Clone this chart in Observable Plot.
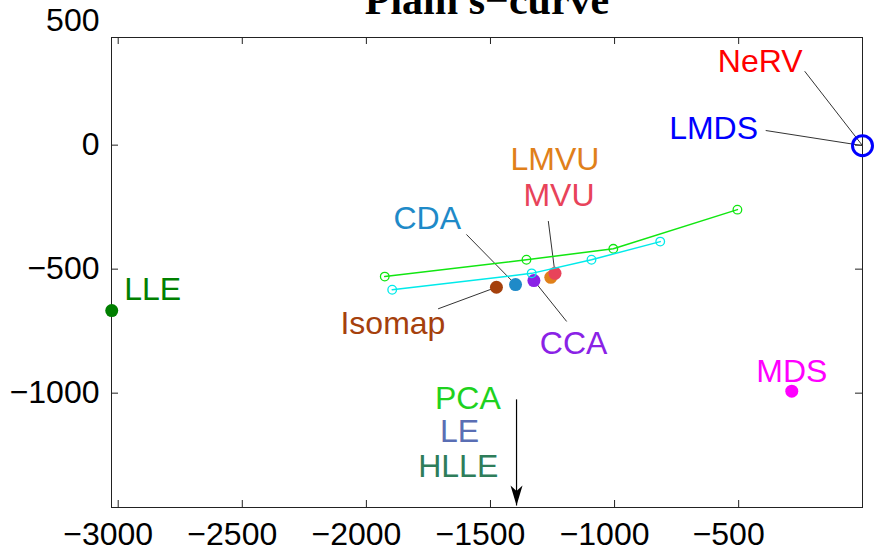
<!DOCTYPE html>
<html>
<head>
<meta charset="utf-8">
<script src="https://cdn.jsdelivr.net/npm/d3@7"></script>
<script src="https://cdn.jsdelivr.net/npm/@observablehq/plot@0.6"></script>
<style>
  html, body { margin: 0; padding: 0; background: #fff; }
  #chart svg { display: block; }
</style>
</head>
<body>
<div id="chart"></div>
<script>
// ---- data ----
const titleText = "Plain s\u2212curve";
const xTicks = [-3000, -2500, -2000, -1500, -1000, -500];
const yTicks = [500, 0, -500, -1000];

// filled dots
const dotNames  = ["LLE", "MDS", "Isomap", "CDA", "CCA", "LMVU", "MVU"];
const dotX      = [-3026, -286, -1476, -1399, -1325, -1257, -1240];
const dotY      = [-667, -992, -573, -562, -546, -533, -517];
const dotColors = ["#007f00", "#ff00ff", "#a5400c", "#1f8ac8", "#8a22e6", "#e0801a", "#e8435a"];

// open circle (LMDS / NeRV)
const lmdsX = -1, lmdsY = -2;

// curves with open markers
const greenX = [-1926, -1355, -1005, -505];
const greenY = [-530, -462, -418, -260];
const cyanX  = [-1896, -1334, -1093, -816];
const cyanY  = [-583, -517, -462, -389];

// labels
const labelNames  = ["LLE", "MDS", "LMDS", "NeRV", "LMVU", "MVU", "CDA", "Isomap", "CCA", "PCA", "LE", "HLLE"];
const labelX      = [-2861, -286, -601, -413, -1240, -1224, -1755, -1893, -1165, -1591, -1625, -1630];
const labelY      = [-582, -912, 65, 337, -60, -203, -297, -721, -802, -1023, -1156, -1298];
const labelColors = ["#008000", "#ff00ff", "#0000ff", "#ff0000", "#e0801a", "#e8435a", "#1f8ac8", "#a5400c", "#8a22e6", "#1ed21e", "#5a6eb4", "#2e7d5a"];

// leader lines: from near label to point
const leaderFromX = [-234, -391, -1267, -1597, -1711, -1193];
const leaderFromY = [298, 59, -306, -360, -660, -711];
const leaderToX   = [-1, -1, -1240, -1399, -1476, -1325];
const leaderToY   = [-2, -2, -517, -562, -573, -546];

// arrow for out-of-range methods (PCA, LE, HLLE)
const arrowX = -1395, arrowY1 = -1025, arrowY2 = -1453;

// ---- build ----
const xDomain = [-3027, -1];
const yDomain = [-1461, 434];
const W = 880, H = 556, mL = 111, mR = 18, mT = 37, mB = 49;
const frameW = W - mL - mR, frameH = H - mT - mB, tick = 7;

const fmt = d => (d < 0 ? "\u2212" + Math.abs(d) : String(d));
const dots = dotNames.map((n, i) => ({name: n, x: dotX[i], y: dotY[i], c: dotColors[i]}));
const green = greenX.map((x, i) => ({x, y: greenY[i]}));
const cyan = cyanX.map((x, i) => ({x, y: cyanY[i]}));
const labels = labelNames.map((n, i) => ({t: n, x: labelX[i], y: labelY[i], c: labelColors[i]}));
const leaders = leaderFromX.map((x, i) => ({x1: x, y1: leaderFromY[i], x2: leaderToX[i], y2: leaderToY[i]}));
const yTicksIn = yTicks.filter(v => v >= yDomain[0] && v <= yDomain[1]);

const arrowHead = {
  draw(ctx, size) {
    const s = Math.sqrt(size / Math.PI);
    ctx.moveTo(0, 0);
    ctx.lineTo(-0.6 * s, -2 * s);
    ctx.lineTo(0, -1.45 * s);
    ctx.lineTo(0.6 * s, -2 * s);
    ctx.closePath();
  }
};

const font = "'Liberation Sans', Arial, sans-serif";

const chart = Plot.plot({
  width: W, height: H,
  marginLeft: mL, marginRight: mR, marginTop: mT, marginBottom: mB,
  x: {domain: xDomain, axis: null},
  y: {domain: yDomain, axis: null},
  style: {fontFamily: font, background: "#fff"},
  marks: [
    // inward ticks on all four sides
    Plot.ruleX(xTicks, {x: d => d, insetTop: frameH - tick, stroke: "#222", strokeWidth: 1}),
    Plot.ruleX(xTicks, {x: d => d, insetBottom: frameH - tick, stroke: "#222", strokeWidth: 1}),
    Plot.ruleY(yTicksIn, {y: d => d, insetRight: frameW - tick, stroke: "#222", strokeWidth: 1}),
    Plot.ruleY(yTicksIn, {y: d => d, insetLeft: frameW - tick, stroke: "#222", strokeWidth: 1}),
    Plot.frame({stroke: "#222", strokeWidth: 1}),
    // tick labels
    Plot.text(xTicks, {x: d => d, text: fmt, frameAnchor: "bottom", lineAnchor: "top", dy: 15, dx: -10, fontSize: 32, fill: "#000"}),
    Plot.text(yTicks, {y: d => d, text: fmt, frameAnchor: "left", textAnchor: "end", dx: -12, fontSize: 32, fill: "#000"}),
    // title (partly cut at the top of the picture)
    Plot.text([titleText], {frameAnchor: "top", lineAnchor: "bottom", dy: -23.5, text: d => d, fontSize: 42, fontWeight: "bold", fontFamily: "'Liberation Serif', 'Times New Roman', serif", fill: "#000"}),
    // leader lines
    Plot.link(leaders, {x1: "x1", y1: "y1", x2: "x2", y2: "y2", stroke: "#333", strokeWidth: 1}),
    // arrow
    Plot.link([0], {x1: () => arrowX, x2: () => arrowX, y1: () => arrowY1, y2: () => arrowY2, stroke: "#000", strokeWidth: 1.2}),
    Plot.dot([0], {x: () => arrowX, y: () => arrowY2, r: 10, symbol: arrowHead, fill: "#000", stroke: "none"}),
    // filled dots
    Plot.dot(dots, {x: "x", y: "y", r: 6.5, fill: "c", stroke: "none"}),
    // LMDS open circle
    Plot.dot([0], {x: () => lmdsX, y: () => lmdsY, r: 10, fill: "none", stroke: "#0000ff", strokeWidth: 3}),
    // curves
    Plot.line(green, {x: "x", y: "y", stroke: "#11e611", strokeWidth: 1.5}),
    Plot.dot(green, {x: "x", y: "y", r: 4.3, stroke: "#11e611", strokeWidth: 1.3, fill: "none"}),
    Plot.line(cyan, {x: "x", y: "y", stroke: "#00eaea", strokeWidth: 1.5}),
    Plot.dot(cyan, {x: "x", y: "y", r: 4.3, stroke: "#00eaea", strokeWidth: 1.3, fill: "none"}),
    // method labels
    Plot.text(labels, {x: "x", y: "y", text: "t", fill: "c", fontSize: 32, lineAnchor: "middle", textAnchor: "middle"})
  ]
});
document.getElementById("chart").appendChild(chart);
</script>
</body>
</html>
